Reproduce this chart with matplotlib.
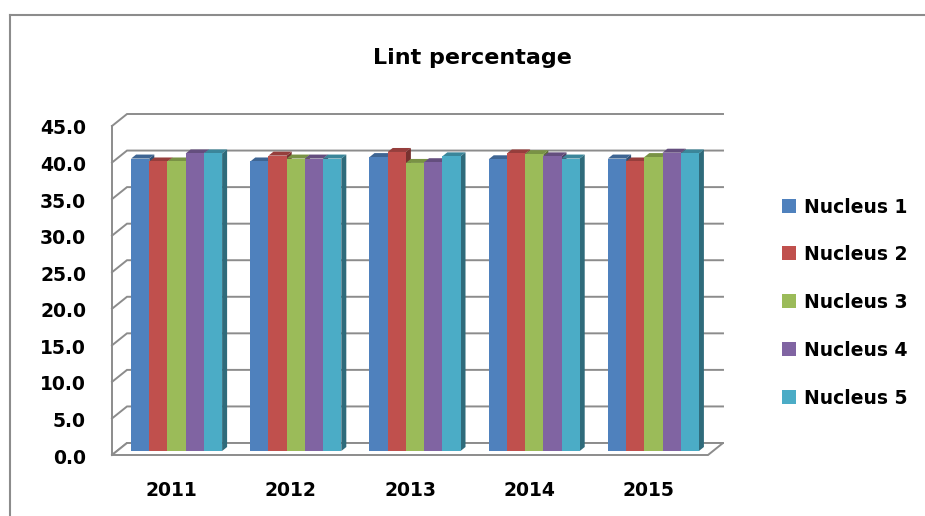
import matplotlib
matplotlib.use('Agg')
import matplotlib.pyplot as plt
import matplotlib.patches as mpatches
from matplotlib.lines import Line2D
import numpy as np

# data
years = ['2011', '2012', '2013', '2014', '2015']
series = ['Nucleus 1', 'Nucleus 2', 'Nucleus 3', 'Nucleus 4', 'Nucleus 5']
nucleus1 = [40.0, 39.6, 40.2, 39.9, 40.0]
nucleus2 = [39.6, 40.4, 40.9, 40.7, 39.6]
nucleus3 = [39.6, 40.0, 39.4, 40.6, 40.2]
nucleus4 = [40.7, 40.0, 39.5, 40.3, 40.8]
nucleus5 = [40.7, 40.0, 40.3, 40.0, 40.7]
yticks = [0, 5, 10, 15, 20, 25, 30, 35, 40, 45]

values = [nucleus1, nucleus2, nucleus3, nucleus4, nucleus5]
colors = ['#4F81BD', '#C0504D', '#9BBB59', '#8064A2', '#4BACC6']
GRID = '#8c8c8c'
FONT = 'DejaVu Sans'

W, H = 925, 516
fig = plt.figure(figsize=(W / 100, H / 100), dpi=100)
fig.patch.set_facecolor('white')

# axes = the plane of the bar fronts
ax_l, ax_r, ax_b, ax_t = 117, 713, 451, 122
ax = fig.add_axes([ax_l / W, 1 - ax_b / H, (ax_r - ax_l) / W, (ax_b - ax_t) / H])
ax.set_xlim(-0.5, len(years) - 0.5)
ax.set_ylim(0, 45)
ax.axis('off')

PXX = (ax_r - ax_l) / len(years)
PXY = (ax_b - ax_t) / 45.0


def dx(p):
    return p / PXX


def dy(p):
    return p / PXY


FRONT = (dx(-5), dy(-4))     # front edge of floor / axis
BACK = (dx(10), dy(8))       # back wall
DEPTH = (dx(5), dy(4))       # bar depth

xl, xr = -0.5, len(years) - 0.5

# floor
floor = mpatches.Polygon([(xl + FRONT[0], FRONT[1]), (xr + FRONT[0], FRONT[1]),
                          (xr + BACK[0], BACK[1]), (xl + BACK[0], BACK[1])],
                         closed=True, facecolor='white', edgecolor=GRID,
                         lw=1.4, zorder=1.5, clip_on=False)
ax.add_patch(floor)

# gridlines on side wall + back wall
for v in yticks:
    ax.plot([xl + FRONT[0], xl + BACK[0], xr + BACK[0]],
            [v + FRONT[1], v + BACK[1], v + BACK[1]],
            color=GRID, lw=1.4, zorder=1, clip_on=False, solid_joinstyle='miter')
    ax.text(xl + FRONT[0] - dx(26), v + FRONT[1] - dy(3), f'{v:.1f}',
            ha='right', va='center', fontsize=13.5, fontweight='bold',
            family=FONT, color='black')

# front vertical axis line
ax.plot([xl + FRONT[0]] * 2, [FRONT[1], 45 + FRONT[1]], color=GRID, lw=1.4,
        zorder=1.6, clip_on=False)


def shade(c, f):
    rgb = np.array(matplotlib.colors.to_rgb(c)) * f
    return tuple(rgb)


bw = 0.1527
x = np.arange(len(years))
for j, (vals, col) in enumerate(zip(values, colors)):
    centers = x + (j - 2) * bw
    bars = ax.bar(centers, vals, width=bw, color=col, linewidth=0,
                  clip_on=False)
    for i, rect in enumerate(bars):
        z = 3 + (i * 5 + j) * 0.01
        rect.set_zorder(z + 0.005)
        v = vals[i]
        x0 = centers[i] - bw / 2
        x1 = centers[i] + bw / 2
        top = mpatches.Polygon([(x0, v), (x1, v), (x1 + DEPTH[0], v + DEPTH[1]),
                                (x0 + DEPTH[0], v + DEPTH[1])],
                               closed=True, facecolor=shade(col, 0.78),
                               lw=0, zorder=z, clip_on=False)
        side = mpatches.Polygon([(x1, 0), (x1, v), (x1 + DEPTH[0], v + DEPTH[1]),
                                 (x1 + DEPTH[0], DEPTH[1])],
                                closed=True, facecolor=shade(col, 0.62),
                                lw=0, zorder=z, clip_on=False)
        ax.add_patch(side)
        ax.add_patch(top)

# category labels
for i, yr in enumerate(years):
    ax.text(i + FRONT[0], FRONT[1] - dy(35), yr, ha='center', va='center',
            fontsize=13.5, fontweight='bold', family=FONT, color='black')

# title
fig.text(472 / W, 1 - 64 / H, 'Lint percentage', ha='center', va='baseline',
         fontsize=16, fontweight='bold', family=FONT, color='black')

# legend
leg_y = [206, 253, 301, 349, 397]
for name, col, yy in zip(series, colors, leg_y):
    fig.add_artist(mpatches.Rectangle((782 / W, 1 - (yy + 7) / H), 14 / W, 14 / H,
                                      transform=fig.transFigure, facecolor=col,
                                      edgecolor='none'))
    fig.text(804 / W, 1 - (yy + 7) / H, name, ha='left', va='baseline',
             fontsize=13.5, fontweight='bold', family=FONT, color='black')

# chart border (top and left visible)
fig.add_artist(Line2D([9.5 / W, 1], [1 - 14.5 / H] * 2, transform=fig.transFigure,
                      color=GRID, lw=1.5))
fig.add_artist(Line2D([9.5 / W] * 2, [0, 1 - 14.5 / H], transform=fig.transFigure,
                      color=GRID, lw=1.5))

fig.savefig('out.png', dpi=100)
